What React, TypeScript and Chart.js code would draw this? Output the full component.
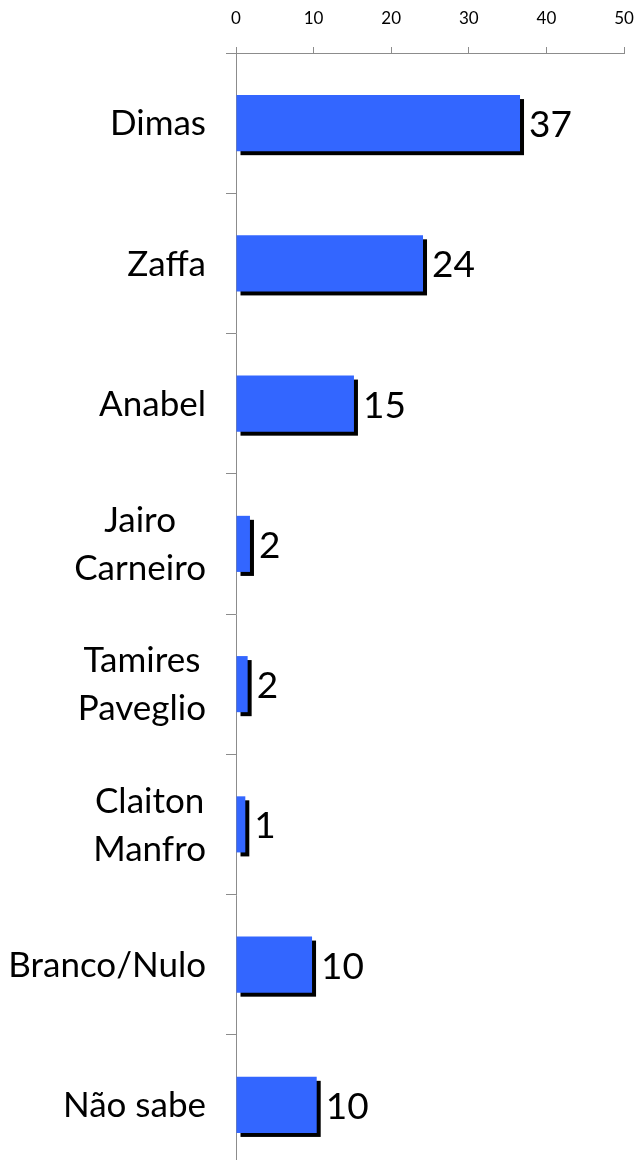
import React, { useEffect, useRef } from 'react';
import { Chart, registerables } from 'chart.js';

Chart.register(...registerables);

const categories = ['Dimas', 'Zaffa', 'Anabel', 'Jairo Carneiro', 'Tamires Paveglio', 'Claiton Manfro', 'Branco/Nulo', 'Não sabe'];
const categoryLines = [['Dimas'], ['Zaffa'], ['Anabel'], ['Jairo', 'Carneiro'], ['Tamires', 'Paveglio'], ['Claiton', 'Manfro'], ['Branco/Nulo'], ['Não sabe']];
const values = [36.6, 24.1, 15.2, 1.8, 1.5, 1.2, 9.8, 10.4];
const valueLabels = ['37', '24', '15', '2', '2', '1', '10', '10'];
const xMin = 0;
const xMax = 50;
const xStep = 10;

const W = 638;
const H = 1175;
const FONT = 'Lato, "Open Sans", sans-serif';
const GRID = '#8c8c8c';
const BAR = '#3366FF';
const SHADOW = 4;

const shadowPlugin = {
  id: 'barShadow',
  beforeDatasetsDraw(chart: any) {
    const ctx = chart.ctx;
    const meta = chart.getDatasetMeta(0);
    ctx.save();
    ctx.fillStyle = '#000';
    meta.data.forEach((bar: any) => {
      const p = bar.getProps(['x', 'y', 'base', 'height'], true);
      ctx.fillRect(p.base + SHADOW, p.y - p.height / 2 + SHADOW, p.x - p.base, p.height);
    });
    ctx.restore();
  },
};

const valueLabelPlugin = {
  id: 'valueLabels',
  afterDatasetsDraw(chart: any) {
    const ctx = chart.ctx;
    const meta = chart.getDatasetMeta(0);
    ctx.save();
    ctx.fillStyle = '#000';
    ctx.font = `37px ${FONT}`;
    ctx.textAlign = 'left';
    ctx.textBaseline = 'middle';
    meta.data.forEach((bar: any, i: number) => {
      const p = bar.getProps(['x', 'y'], true);
      ctx.fillText(valueLabels[i], p.x + SHADOW + 5, p.y + 2);
    });
    ctx.restore();
  },
};

const categoryLabelPlugin = {
  id: 'categoryLabels',
  afterDraw(chart: any) {
    const ctx = chart.ctx;
    const yScale = chart.scales.y;
    const right = yScale.right - 30;
    const lh = 48;
    ctx.save();
    ctx.fillStyle = '#000';
    ctx.font = `35px ${FONT}`;
    ctx.textAlign = 'center';
    ctx.textBaseline = 'middle';
    categoryLines.forEach((lines, i) => {
      const yc = yScale.getPixelForValue(i);
      const blockW = Math.max(...lines.map((l) => ctx.measureText(l).width));
      const cx = right - blockW / 2;
      lines.forEach((line, j) => {
        ctx.fillText(line, cx, yc + (j - (lines.length - 1) / 2) * lh + 1);
      });
    });
    ctx.restore();
  },
};

export default function App() {
  const canvasRef = useRef<HTMLCanvasElement | null>(null);

  useEffect(() => {
    if (!canvasRef.current) return;
    const chart = new Chart(canvasRef.current, {
      type: 'bar',
      data: {
        labels: categories,
        datasets: [
          {
            data: values,
            backgroundColor: BAR,
            borderWidth: 0,
            barPercentage: 0.8,
            categoryPercentage: 0.5,
          },
        ],
      },
      options: {
        indexAxis: 'y',
        responsive: false,
        animation: false,
        devicePixelRatio: 1,
        layout: { padding: { top: 0, right: 0, bottom: 0, left: 0 } },
        plugins: {
          legend: { display: false },
          tooltip: { enabled: false },
        },
        scales: {
          x: {
            position: 'top',
            min: xMin,
            max: xMax,
            ticks: {
              stepSize: xStep,
              color: '#000',
              font: { family: FONT, size: 17 },
              padding: 18,
            },
            grid: {
              drawOnChartArea: false,
              drawTicks: true,
              tickLength: 6,
              color: GRID,
              lineWidth: 1,
            },
            border: { color: GRID, width: 1 },
            afterFit(scale: any) {
              scale.height = 53;
              scale.paddingRight = 14;
              scale.paddingLeft = 0;
            },
          },
          y: {
            position: 'left',
            offset: true,
            ticks: { display: false },
            grid: {
              offset: true,
              drawOnChartArea: false,
              drawTicks: true,
              tickLength: 10,
              color: GRID,
              lineWidth: 1,
            },
            border: { color: GRID, width: 1 },
            afterFit(scale: any) {
              scale.width = 236;
            },
          },
        },
      },
      plugins: [shadowPlugin, valueLabelPlugin, categoryLabelPlugin],
    } as any);
    if ((document as any).fonts && (document as any).fonts.load) {
      Promise.all([
        (document as any).fonts.load(`35px Lato`),
        (document as any).fonts.load(`37px Lato`),
      ]).then(() => chart.update()).catch(() => {});
    }
    return () => chart.destroy();
  }, []);

  return (
    <div style={{ position: 'fixed', left: 0, top: 0, width: W, height: H, background: '#fff' }}>
      <canvas ref={canvasRef} width={W} height={H} style={{ width: W, height: H, display: 'block' }} />
    </div>
  );
}
